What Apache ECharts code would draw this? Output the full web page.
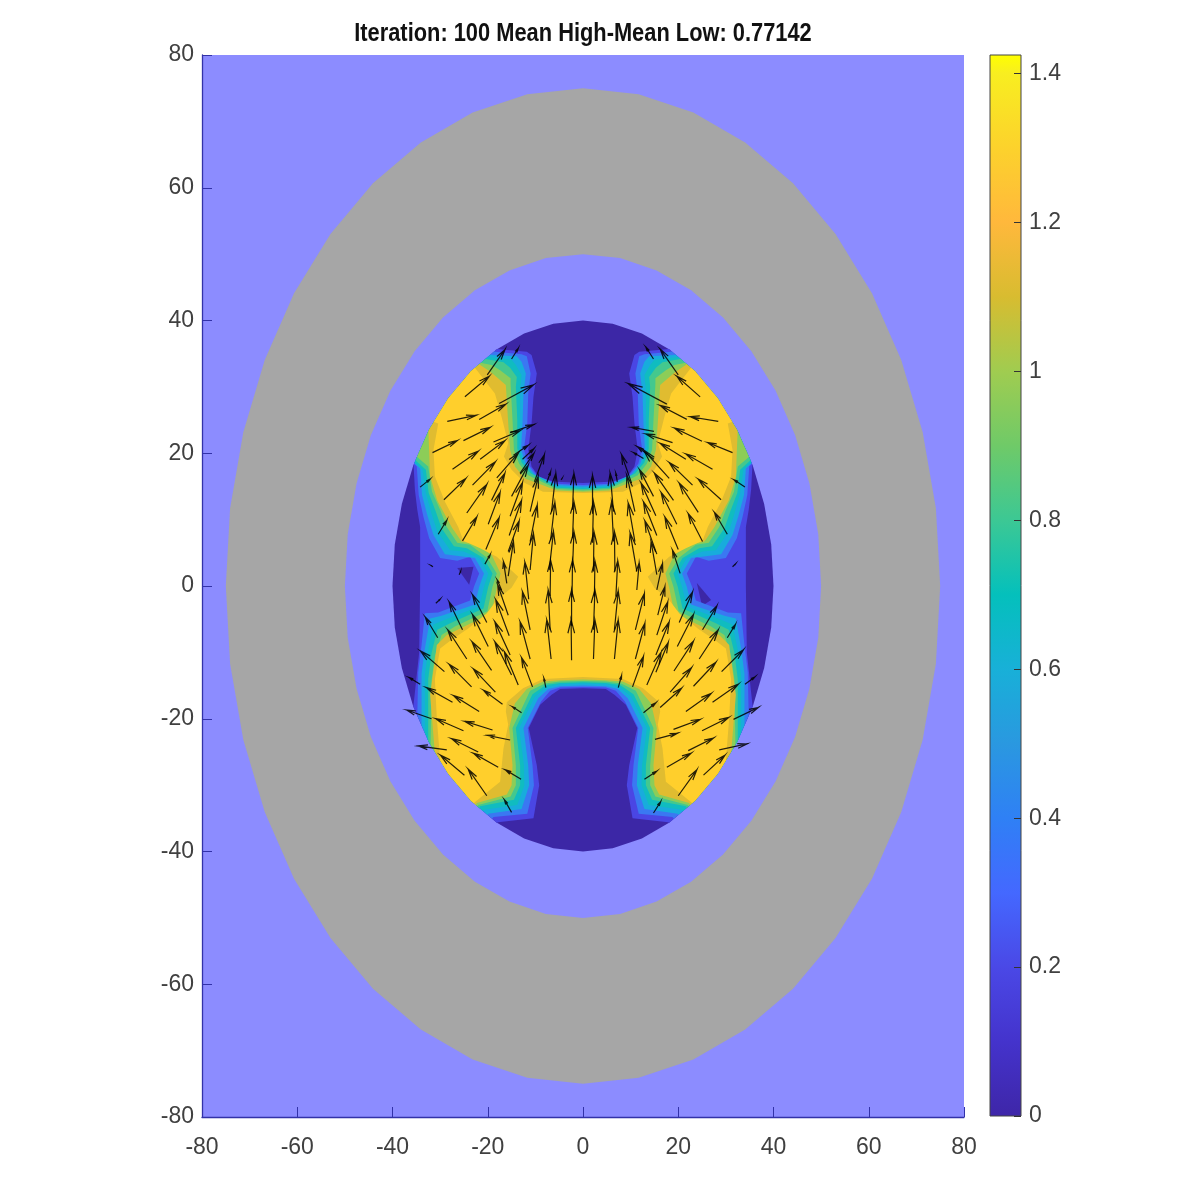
<!DOCTYPE html>
<html>
<head>
<meta charset="utf-8">
<title>Iteration 100</title>
<script src="https://cdn.jsdelivr.net/npm/echarts@6/dist/echarts.min.js"></script>
<style>
  html, body { margin: 0; background: #fff; }
  #chart { width: 1196px; height: 1196px; }
</style>
</head>
<body>
<div id="chart"></div>
<script>
const titleText = 'Iteration: 100 Mean High-Mean Low: 0.77142';
const axisTicks = [-80, -60, -40, -20, 0, 20, 40, 60, 80];
const colorbarTicks = [0, 0.2, 0.4, 0.6, 0.8, 1, 1.2, 1.4];
const colorbarMax = 1.425;
const colorbarValues = [0, 0.1, 0.2, 0.3, 0.4, 0.5, 0.6, 0.7, 0.8, 0.9, 1, 1.1, 1.2, 1.3, 1.4, 1.425];
const colorbarColors = ['#3e26a8', '#4433cc', '#4a48e6', '#4468ff', '#2f80f5', '#2a98e0', '#18b0d8', '#04c0bc',
  '#3cc894', '#6fca68', '#a0cc50', '#d8bc30', '#ffb83c', '#fcd22c', '#f8ee20', '#ffff00'];

// mesh outline of the rings, one vertex per 9 degrees on a unit circle
const unitCircle = [[0,1],[.156,.988],[.309,.951],[.454,.891],[.588,.809],[.707,.707],[.809,.588],[.891,.454],[.951,.309],[.988,.156],
  [1,0],[.988,-.156],[.951,-.309],[.891,-.454],[.809,-.588],[.707,-.707],[.588,-.809],[.454,-.891],[.309,-.951],[.156,-.988],
  [0,-1],[-.156,-.988],[-.309,-.951],[-.454,-.891],[-.588,-.809],[-.707,-.707],[-.809,-.588],[-.891,-.454],[-.951,-.309],[-.988,-.156],
  [-1,0],[-.988,.156],[-.951,.309],[-.891,.454],[-.809,.588],[-.707,.707],[-.588,.809],[-.454,.891],[-.309,.951],[-.156,.988]];
const ringRadius = [75, 50, 40];
const ringColors = ['#a6a6a6', '#8c8cff', '#3c27a6'];

// contour lines, left half from top centre to bottom centre (clipped to the r=40 ring)
const outTop = [[-32,46],[-52,30]];
const outBottom = [[-50,-28],[-30,-46]];
const contour1 = [[0,15.5],[-5.5,15.7],[-9,16.2],[-10.8,18],[-11.5,20.5],[-10.8,24.5],[-10.4,28.5],[-9.7,32],[-10.8,34.8],[-11.8,35.3],[-18.1,35.7],...outTop,
  [-35.6,18.5],[-35.3,14.5],[-34.8,11.5],[-34.2,8.9],[-34.2,0],[-34.4,-10],[-35.6,-18],...outBottom,
  [-17.9,-35.6],[-10.4,-35],[-9.2,-30],[-9.7,-27],[-11.4,-21.4],[-9,-17.9],[-6.6,-16.4],[-4.8,-15.5],[0,-15.4]];
const contour2 = [[0,15.2],[-5.5,15.4],[-9.6,16.6],[-11.6,18.4],[-12.4,20.6],[-11.7,24.5],[-11.5,29],[-11,32],[-11.8,34.6],[-12.9,34.9],[-18.5,35.3],...outTop,
  [-34.9,18],[-34.5,13.7],[-33.5,10.4],[-32.3,7.2],[-30,4.2],[-26.4,3.8],[-23.7,4.4],[-21.8,1.9],[-22.9,-.1],[-23.7,-2.2],[-30.4,-4],[-33.2,-4.1],[-33.9,-8.9],[-34.6,-13],[-34.8,-19.7],...outBottom,
  [-18.8,-34.8],[-11.7,-34.3],[-10.3,-30],[-10.6,-27],[-11.6,-21.4],[-8.8,-17.4],[-6.9,-15.8],[-4.8,-15.3],[0,-15.2]];
const contour3 = [[0,15],[-5.5,15.2],[-10.2,16.8],[-12,18.4],[-13,20.6],[-12.7,24.5],[-12.5,29],[-12,32],[-12.9,33.8],[-13.9,34.6],[-19.2,34.8],...outTop,
  [-34.2,17.7],[-33.8,13.7],[-32.7,10.7],[-31.4,7.7],[-29,4.8],[-25.8,4.5],[-22.7,4.2],[-20.8,1.9],[-21.8,-.1],[-22.7,-2.8],[-29.7,-4.5],[-32.1,-4.9],[-33.2,-9.4],[-33.9,-13.2],[-33.9,-20.9],...outBottom,
  [-19.9,-34.3],[-12.9,-33.6],[-11.3,-30],[-11.5,-27],[-12.5,-21.4],[-9.4,-16.9],[-7.3,-15.5],[-4.8,-15.1],[0,-15]];
const contour4 = [[0,14.8],[-5.5,15],[-10.6,16.9],[-12.4,18.5],[-13.4,20.7],[-13.2,24.8],[-13.2,29.5],[-12.9,31.8],[-14.1,33.3],[-15,34.1],[-19.9,34.5],...outTop,
  [-33.7,17.5],[-33,14],[-31.8,10.9],[-30.6,8.2],[-27.9,5.4],[-25.1,5.2],[-21.8,4.2],[-19.9,1.9],[-20.8,-.1],[-21.8,-3.1],[-29,-5.1],[-31.4,-5.8],[-32.5,-9.6],[-33.2,-13.4],[-33.2,-22],...outBottom,
  [-20.8,-33.7],[-13.8,-33],[-12.3,-30],[-12.4,-27],[-13.4,-21.4],[-10.1,-16.7],[-7.6,-15.2],[-4.8,-14.8],[0,-14.7]];
const contour5 = [[0,14.6],[-5.5,14.8],[-11,17],[-12.9,18.6],[-13.8,20.7],[-13.8,25],[-14.1,30],[-13.9,31.5],[-15.3,32.9],[-16.7,33.7],[-20.4,34.2],...outTop,
  [-33,17.5],[-32.4,14],[-30.9,11.2],[-29.7,8.7],[-27.1,6],[-24.4,5.7],[-20.9,4.2],[-19,1.9],[-19.9,-.1],[-20.9,-3.4],[-27.9,-5.6],[-30.6,-6.6],[-31.8,-10.1],[-32.5,-14],[-32.5,-23.2],...outBottom,
  [-21.6,-33.2],[-14.5,-32.2],[-13.2,-30],[-13.2,-27],[-14.1,-21.4],[-10.6,-16.3],[-7.8,-14.9],[-4.8,-14.6],[0,-14.5]];
const contour6 = [[0,14.4],[-5.5,14.6],[-11.5,16.7],[-13.4,18.4],[-14.5,20.5],[-14.8,25],[-15.2,30.4],[-15.2,31.3],[-17.4,32.5],[-19.2,33.3],[-21.3,33.6],...outTop,
  [-32.5,18],[-31.7,14.2],[-30,11.5],[-28.6,8.9],[-26.4,6.5],[-23.7,6.2],[-20.1,4.2],[-18.1,1.9],[-19,-.1],[-20.1,-3.8],[-26.9,-6.1],[-29.7,-7.4],[-31.1,-10.6],[-31.8,-14.2],[-32,-24],...outBottom,
  [-22,-33],[-15.2,-31.7],[-14.1,-30],[-14.1,-27],[-14.8,-21.4],[-11.1,-15.8],[-8,-14.7],[-4.8,-14.4],[0,-14.3]];
const contour7 = [[0,14.2],[-5.5,14.4],[-12.2,16.2],[-14.3,18],[-15.3,20.5],[-15.7,24.5],[-16.2,30.3],[-19.5,32.3],[-21.6,33.3],...outTop,
  [-32.5,24],[-32.1,16.5],[-30.6,12.9],[-27.6,8.9],[-25.5,6.7],[-22.3,6.2],[-19.2,4.7],[-17.3,1.9],[-18.1,-.25],[-19.2,-4.1],[-25.8,-6.4],[-28.6,-7.4],[-30.7,-8.9],[-31.1,-11.2],[-32.1,-16.4],[-31.1,-25.2],...outBottom,
  [-22.3,-32.7],[-16,-31.4],[-15,-30],[-14.8,-27],[-15.5,-21.4],[-14.3,-17.7],[-11.8,-15.5],[-8.3,-14.4],[-4.8,-14.2],[0,-14.1]];
const contour8 = [[0,14],[-8.4,14.2],[-12.2,15.5],[-15,17.5],[-16.6,19.5],[-15.7,21.5],[-17.1,25.5],[-18.5,29],[-22.7,32.9],...outTop,
  [-30.4,24.5],[-31.4,20.5],[-31.1,16.5],[-29,12.7],[-26.2,8.9],[-25.1,6.8],[-21.6,5.7],[-18.1,4.4],[-13.6,1.4],[-15,-.25],[-18.1,-2.1],[-20.2,-4.1],[-24.1,-6.4],[-27.6,-8.1],[-30,-9.4],[-31.1,-14],[-30.7,-19.9],[-30,-26.2],...outBottom,
  [-22.8,-32.6],[-17.4,-29.5],[-16.7,-24.5],[-15.7,-20.9],[-16.2,-18.9],[-16,-17.5],[-12.6,-15.4],[-8.4,-14],[0,-13.7]];
const contourColors = ['#4a46e4', '#3a78f2', '#18acdc', '#10bcc0', '#44c88e', '#8ccd58', '#e0bc30', '#ffcf2c'];
const notchLeft = [[-26.4,2.7],[-23,2.9],[-23.9,.2]];
const notchRight = [[23.9,.45],[26.9,-2.1],[25,-3]];

// quiver arrows: tail x, tail y, tip x, tip y
const arrows = [
  // centre columns
  [-2.2,11.5,-1.9,17],[-2.2,7.2,-1.9,12.7],[-2.2,2.7,-1.9,8.2],[-2.3,-1.7,-2.2,3.9],[-2.4,-6,-2.4,-.6],[-2.4,-11.2,-2.5,-5.1],
  [-6.6,11.2,-5.7,17],[-6.8,6.9,-5.9,12.6],[-7.1,2.4,-6.2,8.2],[-6.9,-1.5,-6.8,3.9],[-6.9,-6.6,-7.3,-.6],[-6.7,-11,-7.6,-5.1],
  [-7.6,15.6,-6.8,17.2],[-7.8,-15.3,-8.2,-13.9],[-4.6,16,-4.4,16.2],
  [-11.1,11.2,-9.4,16.5],[-11.1,6.7,-9.6,12.2],[-11.1,2.4,-10.4,7.9],[-11.4,-2,-12.2,3.6],[-11.1,-6.6,-12.7,-.85],[-11.1,-11,-13.2,-5.4],[-10.6,-15.2,-12.9,-10.8],
  [-15.3,10.5,-12.7,15.6],[-15.5,7.6,-12.9,12.9],[-15.7,5.2,-13.4,9.8],[-15.7,1.5,-14.6,6.7],[-15,13.5,-11.5,18.2],
  [-19.2,12.9,-16.4,17],[-19.9,9.3,-17.4,14.1],[-20.4,5.5,-17.6,10.3],[-20.6,3.3,-19.5,4.7],[-16,.4,-16.7,3.7],[-17.1,-.6,-18,.9],
  [-15.7,-4.4,-17.9,.15],[-15.5,-7.5,-18.3,-2.1],[-15.3,-10.4,-18.5,-5.4],[-15,-13.4,-18.5,-8.4],[-13.6,-14.9,-16.5,-9.9],[-16.9,-17.8,-20.9,-15.7],
  // upper left
  [-20.1,31.8,-16.4,35.6],[-15,34.2,-13.6,35.8],[-24.8,28.5,-19.7,31.6],[-17.6,27.5,-10.4,30.3],[-21.8,25.1,-16.2,27.4],[-28.5,24.8,-22.5,25.7],
  [-25.1,21.9,-19.5,23.9],[-18.8,21.7,-13.2,23.4],[-15.3,23.1,-10.4,24.3],[-31.6,20.1,-26.4,21.9],[-21.6,19.1,-16.4,21.9],[-27.4,17.6,-22,20.3],
  [-34.2,14.9,-32.1,16.1],[-18.1,16.3,-13.6,20],[-14.6,19.7,-11.5,21.2],[-12.7,19.1,-10.3,20.7],[-23.2,15.2,-18.4,18.7],[-29.2,13,-24.6,16.2],
  [-13.2,17,-10.3,20],[-10.2,15.7,-8.1,19.8],[-24.4,11,-20.2,15.3],[-30.4,7.8,-28.6,9.9],[-25.3,6.8,-22.3,10.4],
  [-31.5,2.9,-31.9,3.1],[-26,1.7,-25.7,2.2],
  // lower left
  [-25.3,-6.6,-28.1,-2.4],[-30.5,-7.8,-33.1,-4.7],[-20.2,-5.5,-23.2,-1.3],[-19.9,-9.1,-23.2,-4.3],[-24.4,-11,-28.4,-6.6],[-29.1,-12.9,-34.1,-9.8],
  [-19.2,-12.7,-23.3,-8.4],[-23.4,-15.2,-28.1,-11.8],[-18.4,-16,-23,-12.5],[-34.2,-14.8,-36.5,-13.8],[-27.4,-17.5,-32.9,-15.3],[-21.8,-18.9,-27.2,-16.5],
  [-25.1,-21.8,-30.9,-20],[-31.8,-20,-37,-18.7],[-19,-21.7,-24.8,-20.4],[-12.9,-19.1,-14.8,-18.2],[-15.3,-23.2,-20.1,-22.5],[-22,-25,-27.6,-23],
  [-28.6,-24.7,-34.6,-24.1],[-17.8,-27.3,-23,-25.2],[-24.9,-28.5,-29.9,-25.5],[-13,-29.1,-16.3,-27.7],[-20.2,-31.6,-24.1,-27.6],[-15,-34.1,-16.5,-32.2],
  [-30.9,-2.6,-30,-2],
  // right centre columns
  [2,10.9,2,16.7],[2,6.5,2.2,12.7],[2.2,2.2,2.3,8.2],[2.4,-1.6,2.5,3.8],[2.2,-6.6,2.5,-.6],[2.2,-11,2.5,-5.1],
  [6.4,11.2,5.7,17],[6.4,6.7,6,12.7],[6.7,2.2,6.6,8.2],[6.9,-1.6,7.3,3.8],[6.6,-6.6,7.4,-.75],[6.6,-11,7.4,-5.1],[7.2,15.7,6.9,17],
  [10.9,11.2,9.2,16.7],[10.9,6.7,9.5,12.5],[11.3,2.2,9.9,8],[11.3,-.6,11.8,3.5],[11,-6.6,12.9,-1.1],[11,-11,13,-5.6],[10.4,-15.2,12.7,-10.6],[7.4,-15.3,8.1,-13.5],
  [15.3,10.6,12.2,15.5],[15.5,7.6,12.7,12.7],[15.5,4.8,13,9.8],[15.5,1.7,14.3,6.7],[14.8,13.5,11.9,17.5],
  [19,12.9,15,17],[19.7,9.3,16.4,14.1],[20,5.5,17.2,10.4],[15.5,-.6,16.7,3.4],
  [15.7,-4.4,17.2,-.1],[15.5,-7.4,17.8,-2.4],[15.3,-10.4,18.1,-5.4],[15.3,-13,17.9,-8.5],[13.4,-14.9,16.4,-10],
  // upper right
  [20,31.8,16.2,35.7],[14.8,34.2,13.2,36],[24.6,28.5,19.7,31.6],[17.6,27.4,9.5,30.5],[21.8,25.1,16.2,27.2],[28.4,24.8,22.5,25.5],
  [25,21.8,19.2,23.8],[18.8,21.6,13.2,22.9],[14.9,23.3,10.2,23.9],[31.4,20.1,26.2,21.6],[21.6,19.1,16.2,21.5],[27.2,17.6,21.6,19.9],
  [34,14.9,31.7,16],[18.1,16.2,12.7,20.5],[14.9,19.1,11.4,21],[12.7,19.2,10.6,20.1],[23,15.2,18.1,18.6],[29,13,24.2,16.1],
  [10.2,15.5,8.1,19.8],[24.2,11.1,20.2,15.5],[25.1,6.7,22.1,10.9],[30.3,7.8,27.6,11.1],[20.4,1.9,18.8,5.4],[31.4,2.9,32,3.3],
  // lower right
  [25.1,-6.6,28.1,-3],[30.3,-7.8,32,-5.8],[19.8,-9.1,23.2,-4.3],[20.2,-5.5,23,-.9],[24.4,-11,28.4,-6.6],[29.1,-12.9,33.7,-9.6],
  [19.1,-12.8,23.2,-8.3],[23.2,-15.1,27.9,-11.5],[34,-14.8,36.1,-13.7],[18.3,-16,22.8,-12.3],[27.2,-17.5,32.6,-14.8],[21.6,-18.9,26.9,-16.2],
  [16.2,-18.3,20.7,-15.4],[12.7,-19.1,15.3,-17.6],[25,-21.8,30.6,-19.8],[31.6,-20.1,36.8,-18.3],[19,-21.6,24.6,-20.1],[15.1,-23.1,19.8,-22.2],
  [22.1,-24.8,27.4,-22.9],[28.6,-24.7,34.4,-23.8],[17.6,-27.3,22.7,-25.2],[25.3,-28.5,29.8,-25.5],[12.9,-29.1,15.5,-27.9],[20,-31.6,23.9,-27.7],[14.8,-34.2,16.3,-32.5]
];

let chart = echarts.init(document.getElementById('chart'));

function ringOutline(radius) {
  return unitCircle.map(p => [p[0] * radius, p[1] * radius]);
}

function mirrored(half) {
  return half.concat(half.slice().reverse().map(p => [-p[0], p[1]]));
}

function polygonSeries(points, color, clip) {
  return {
    type: 'custom',
    coordinateSystem: 'cartesian2d',
    xAxisIndex: 0,
    yAxisIndex: 0,
    encode: { x: 0, y: 1 },
    silent: true,
    animation: false,
    data: points,
    renderItem(params, api) {
      if (params.dataIndex !== 0) return null;
      let el = {
        type: 'polygon',
        shape: { points: points.map(p => api.coord(p)) },
        style: { fill: color, stroke: null }
      };
      if (clip) el.clipPath = { type: 'polygon', shape: { points: ringOutline(ringRadius[2]).map(p => api.coord(p)) } };
      return el;
    }
  };
}

let series = [];
ringRadius.forEach((r, i) => series.push(polygonSeries(ringOutline(r), ringColors[i], false)));
series.push(polygonSeries(mirrored(contour1), contourColors[0], true));
series.push(polygonSeries(notchLeft, ringColors[2], false));
series.push(polygonSeries(notchRight, ringColors[2], false));
[contour2, contour3, contour4, contour5, contour6, contour7, contour8].forEach((c, i) => {
  series.push(polygonSeries(mirrored(c), contourColors[i + 1], true));
});

series.push({
  type: 'custom',
  coordinateSystem: 'cartesian2d',
  xAxisIndex: 0,
  yAxisIndex: 0,
  encode: { x: [0, 2], y: [1, 3] },
  silent: true,
  animation: false,
  data: arrows,
  renderItem(params, api) {
    let a = api.coord([api.value(0), api.value(1)]);
    let b = api.coord([api.value(2), api.value(3)]);
    let dx = b[0] - a[0], dy = b[1] - a[1];
    let alpha = 0.33, beta = 0.25;
    let h1 = [b[0] - alpha * (dx + beta * dy), b[1] - alpha * (dy - beta * dx)];
    let h2 = [b[0] - alpha * (dx - beta * dy), b[1] - alpha * (dy + beta * dx)];
    return {
      type: 'polyline',
      shape: { points: [a, b, h1, b, h2] },
      style: { stroke: '#000', lineWidth: 1.2, fill: null, opacity: 0.85 }
    };
  }
});

// colorbar
series.push({
  type: 'custom',
  coordinateSystem: 'cartesian2d',
  xAxisIndex: 1,
  yAxisIndex: 1,
  silent: true,
  animation: false,
  data: [[0, colorbarMax]],
  encode: { y: [0, 1] },
  renderItem(params, api) {
    let top = api.coord([0, colorbarMax]);
    let bottom = api.coord([1, 0]);
    let stops = colorbarValues.map((v, i) => ({ offset: 1 - v / colorbarMax, color: colorbarColors[i] })).reverse();
    return {
      type: 'rect',
      shape: { x: top[0], y: top[1], width: bottom[0] - top[0], height: bottom[1] - top[1] },
      style: {
        fill: new echarts.graphic.LinearGradient(0, 0, 0, 1, stops),
        stroke: '#444',
        lineWidth: 1
      }
    };
  }
});

const labelFont = { color: '#404040', fontFamily: 'Liberation Sans', fontSize: 23 };

let option = {
  animation: false,
  backgroundColor: '#ffffff',
  graphic: [{
    type: 'text',
    x: 583,
    y: 34,
    scaleX: 0.84,
    style: {
      text: titleText,
      textAlign: 'center',
      textVerticalAlign: 'middle',
      font: 'bold 26px "Liberation Sans"',
      fill: '#111'
    }
  }],
  grid: [
    { left: 202, top: 55, width: 762, height: 1062, show: true, backgroundColor: '#8c8cff', borderWidth: 0 },
    { left: 990, top: 55, width: 31, height: 1061, show: false }
  ],
  xAxis: [
    {
      type: 'value', gridIndex: 0, min: -80, max: 80, interval: 20,
      axisLine: { show: true, onZero: false, lineStyle: { color: '#3232a8', width: 1.3 } },
      axisTick: { show: true, inside: true, length: 10, lineStyle: { color: '#3232a8' } },
      axisLabel: { ...labelFont, margin: 19, customValues: axisTicks, hideOverlap: false },
      splitLine: { show: false }
    },
    { type: 'value', gridIndex: 1, min: 0, max: 1, show: false }
  ],
  yAxis: [
    {
      type: 'value', gridIndex: 0, min: -80, max: 80, interval: 20,
      axisLine: { show: true, onZero: false, lineStyle: { color: '#3232a8', width: 1.3 } },
      axisTick: { show: true, inside: true, length: 10, lineStyle: { color: '#3232a8' } },
      axisLabel: { ...labelFont, margin: 8, customValues: axisTicks },
      splitLine: { show: false }
    },
    {
      type: 'value', gridIndex: 1, position: 'right', min: 0, max: colorbarMax, z: 5,
      axisLine: { show: false, onZero: false },
      axisTick: { show: true, inside: true, length: 7, customValues: colorbarTicks, lineStyle: { color: '#333' } },
      axisLabel: { ...labelFont, margin: 8, customValues: colorbarTicks, formatter: v => String(v) },
      splitLine: { show: false }
    }
  ],
  series: series
};

chart.setOption(option);
</script>
</body>
</html>
